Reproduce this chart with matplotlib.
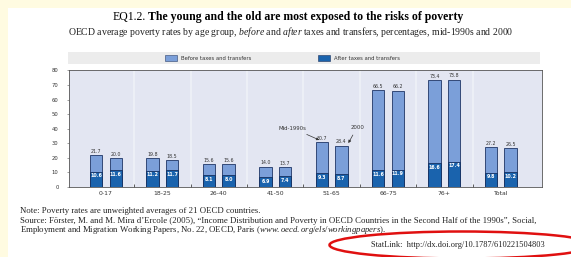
import numpy as np
import matplotlib
matplotlib.use("Agg")
import matplotlib.pyplot as plt
import matplotlib.patches as patches

# Data
age_groups = ['0-17', '18-25', '26-40', '41-50', '51-65', '66-75', '76+', 'Total']
before_mid90s = [21.7, 19.8, 15.6, 14.0, 30.7, 66.5, 73.4, 27.2]
before_2000 = [20.0, 18.5, 15.6, 13.7, 28.4, 66.2, 73.8, 26.5]
after_mid90s = [10.6, 11.2, 8.1, 6.9, 9.3, 11.6, 16.6, 9.8]
after_2000 = [11.6, 11.7, 8.0, 7.4, 8.7, 11.9, 17.4, 10.2]
y_ticks = [0, 10, 20, 30, 40, 50, 60, 70, 80]

light_blue = '#7b9fd9'
dark_blue = '#1a63ad'
serif = ['Liberation Serif', 'DejaVu Serif']
plt.rcParams['mathtext.fontset'] = 'custom'
plt.rcParams['mathtext.rm'] = 'Liberation Serif'
plt.rcParams['mathtext.it'] = 'Liberation Serif:italic'

W, H = 571, 257
fig = plt.figure(figsize=(W / 100, H / 100), dpi=100)
fig.patch.set_facecolor('#fffbe1')

def fx(px):
    return px / W

def fy(py):
    return 1 - py / H

# white page
fig.patches.append(patches.Rectangle((fx(8), 0), 1, fy(8), transform=fig.transFigure,
                                     facecolor='white', edgecolor='none', zorder=-10))

# titles
fig.text(fx(113), fy(17), 'EQ1.2.', family=serif, fontsize=8.5, va='center', ha='left')
fig.text(fx(148), fy(17), 'The young and the old are most exposed to the risks of poverty',
         family=serif, fontsize=8.5, weight='bold', va='center', ha='left')
fig.text(fx(291), fy(32),
         'OECD average poverty rates by age group, $\\it{before}$ and $\\it{after}$ taxes and transfers, '
         'percentages, mid-1990s and 2000',
         family=serif, fontsize=7.0, va='center', ha='center', color='#222222')

# legend strip
fig.patches.append(patches.Rectangle((fx(68), fy(64)), fx(472), 12 / H, transform=fig.transFigure,
                                     facecolor='#ececec', edgecolor='none', zorder=-5))
fig.patches.append(patches.Rectangle((fx(165), fy(61)), fx(12), 6 / H, transform=fig.transFigure,
                                     facecolor=light_blue, edgecolor='#2a3f6a', lw=0.4, zorder=-4))
fig.text(fx(181), fy(58), 'Before taxes and transfers', fontsize=3.8, va='center', color='#333333')
fig.patches.append(patches.Rectangle((fx(318), fy(61)), fx(12), 6 / H, transform=fig.transFigure,
                                     facecolor=dark_blue, edgecolor='#1a2f5a', lw=0.4, zorder=-4))
fig.text(fx(334), fy(58), 'After taxes and transfers', fontsize=3.8, va='center', color='#333333')

# main axes
ax = fig.add_axes([fx(69), fy(187), fx(473), (187 - 70.5) / H])
ax.set_facecolor('#e3e6f2')
x = np.arange(len(age_groups))
off, bw = 0.173, 0.22

for xv in x[:-1] + 0.5:
    ax.axvline(xv, color='#eff1f8', lw=1.2, zorder=0)

for sign, before, after in [(-1, before_mid90s, after_mid90s), (1, before_2000, after_2000)]:
    pos = x + sign * off
    ax.bar(pos, before, bw, color=light_blue, edgecolor='#1f3566', lw=0.6, zorder=2)
    ax.bar(pos, after, bw, color=dark_blue, edgecolor='#163060', lw=0.6, zorder=3)
    for p, b, a in zip(pos, before, after):
        ax.text(p, b + 0.8, f'{b:.1f}', ha='center', va='bottom', fontsize=3.4, color='#333333', zorder=4)
        ax.text(p, a - 1.2, f'{a:.1f}', ha='center', va='top', fontsize=3.4, color='white',
                weight='bold', zorder=4)

ax.set_xlim(-0.656, 7.73)
ax.set_ylim(0, 80)
ax.set_yticks(y_ticks)
ax.set_yticklabels([str(t) for t in y_ticks], fontsize=3.8, color='#333333')
ax.set_xticks(x)
ax.set_xticklabels(age_groups, fontsize=4.4, color='#333333')
ax.tick_params(axis='x', length=0, pad=3)
ax.tick_params(axis='y', length=1.5, width=0.4, pad=6, color='#555555')
ax.set_xticks(x[:-1] + 0.5, minor=True)
ax.tick_params(axis='x', which='minor', length=2, width=0.6, direction='in', color='#444444')
for s in ax.spines.values():
    s.set_color('#555555')
    s.set_linewidth(0.6)

# annotations
ax.annotate('Mid-1990s', xy=(4 - off, 31.5), xytext=(3.55, 40.5), fontsize=3.9, ha='right',
            va='center', color='#333333',
            arrowprops=dict(arrowstyle='-|>', color='#333333', lw=0.5, mutation_scale=4))
ax.annotate('2000', xy=(4 + off + 0.1, 28.5), xytext=(4.33, 41), fontsize=3.9, ha='left',
            va='center', color='#333333',
            arrowprops=dict(arrowstyle='-|>', color='#333333', lw=0.5, mutation_scale=4))

# notes
note_kw = dict(family=serif, fontsize=6.3, va='center', color='#222222')
fig.text(fx(20), fy(211), 'Note: Poverty rates are unweighted averages of 21 OECD countries.', **note_kw)
fig.text(fx(20), fy(221),
         'Source: F\u00f6rster, M. and M. Mira d\u2019Ercole (2005), \u201cIncome Distribution and Poverty '
         'in OECD Countries in the Second Half of the 1990s\u201d, Social,', **note_kw)
fig.text(fx(20), fy(230),
         'Employment and Migration Working Papers, No. 22, OECD, Paris ($\\it{www.oecd.org/els/workingpapers}$).',
         **note_kw)
fig.text(fx(545), fy(245), 'StatLink:  http://dx.doi.org/10.1787/610221504803', ha='right',
         family=serif, fontsize=6.0, va='center', color='#222222')

fig.patches.append(patches.Ellipse((fx(462), fy(245)), fx(265), 27 / H, transform=fig.transFigure,
                                   facecolor='none', edgecolor='#e01010', lw=1.8, zorder=5))

fig.savefig('out.png', dpi=100, facecolor=fig.get_facecolor())
